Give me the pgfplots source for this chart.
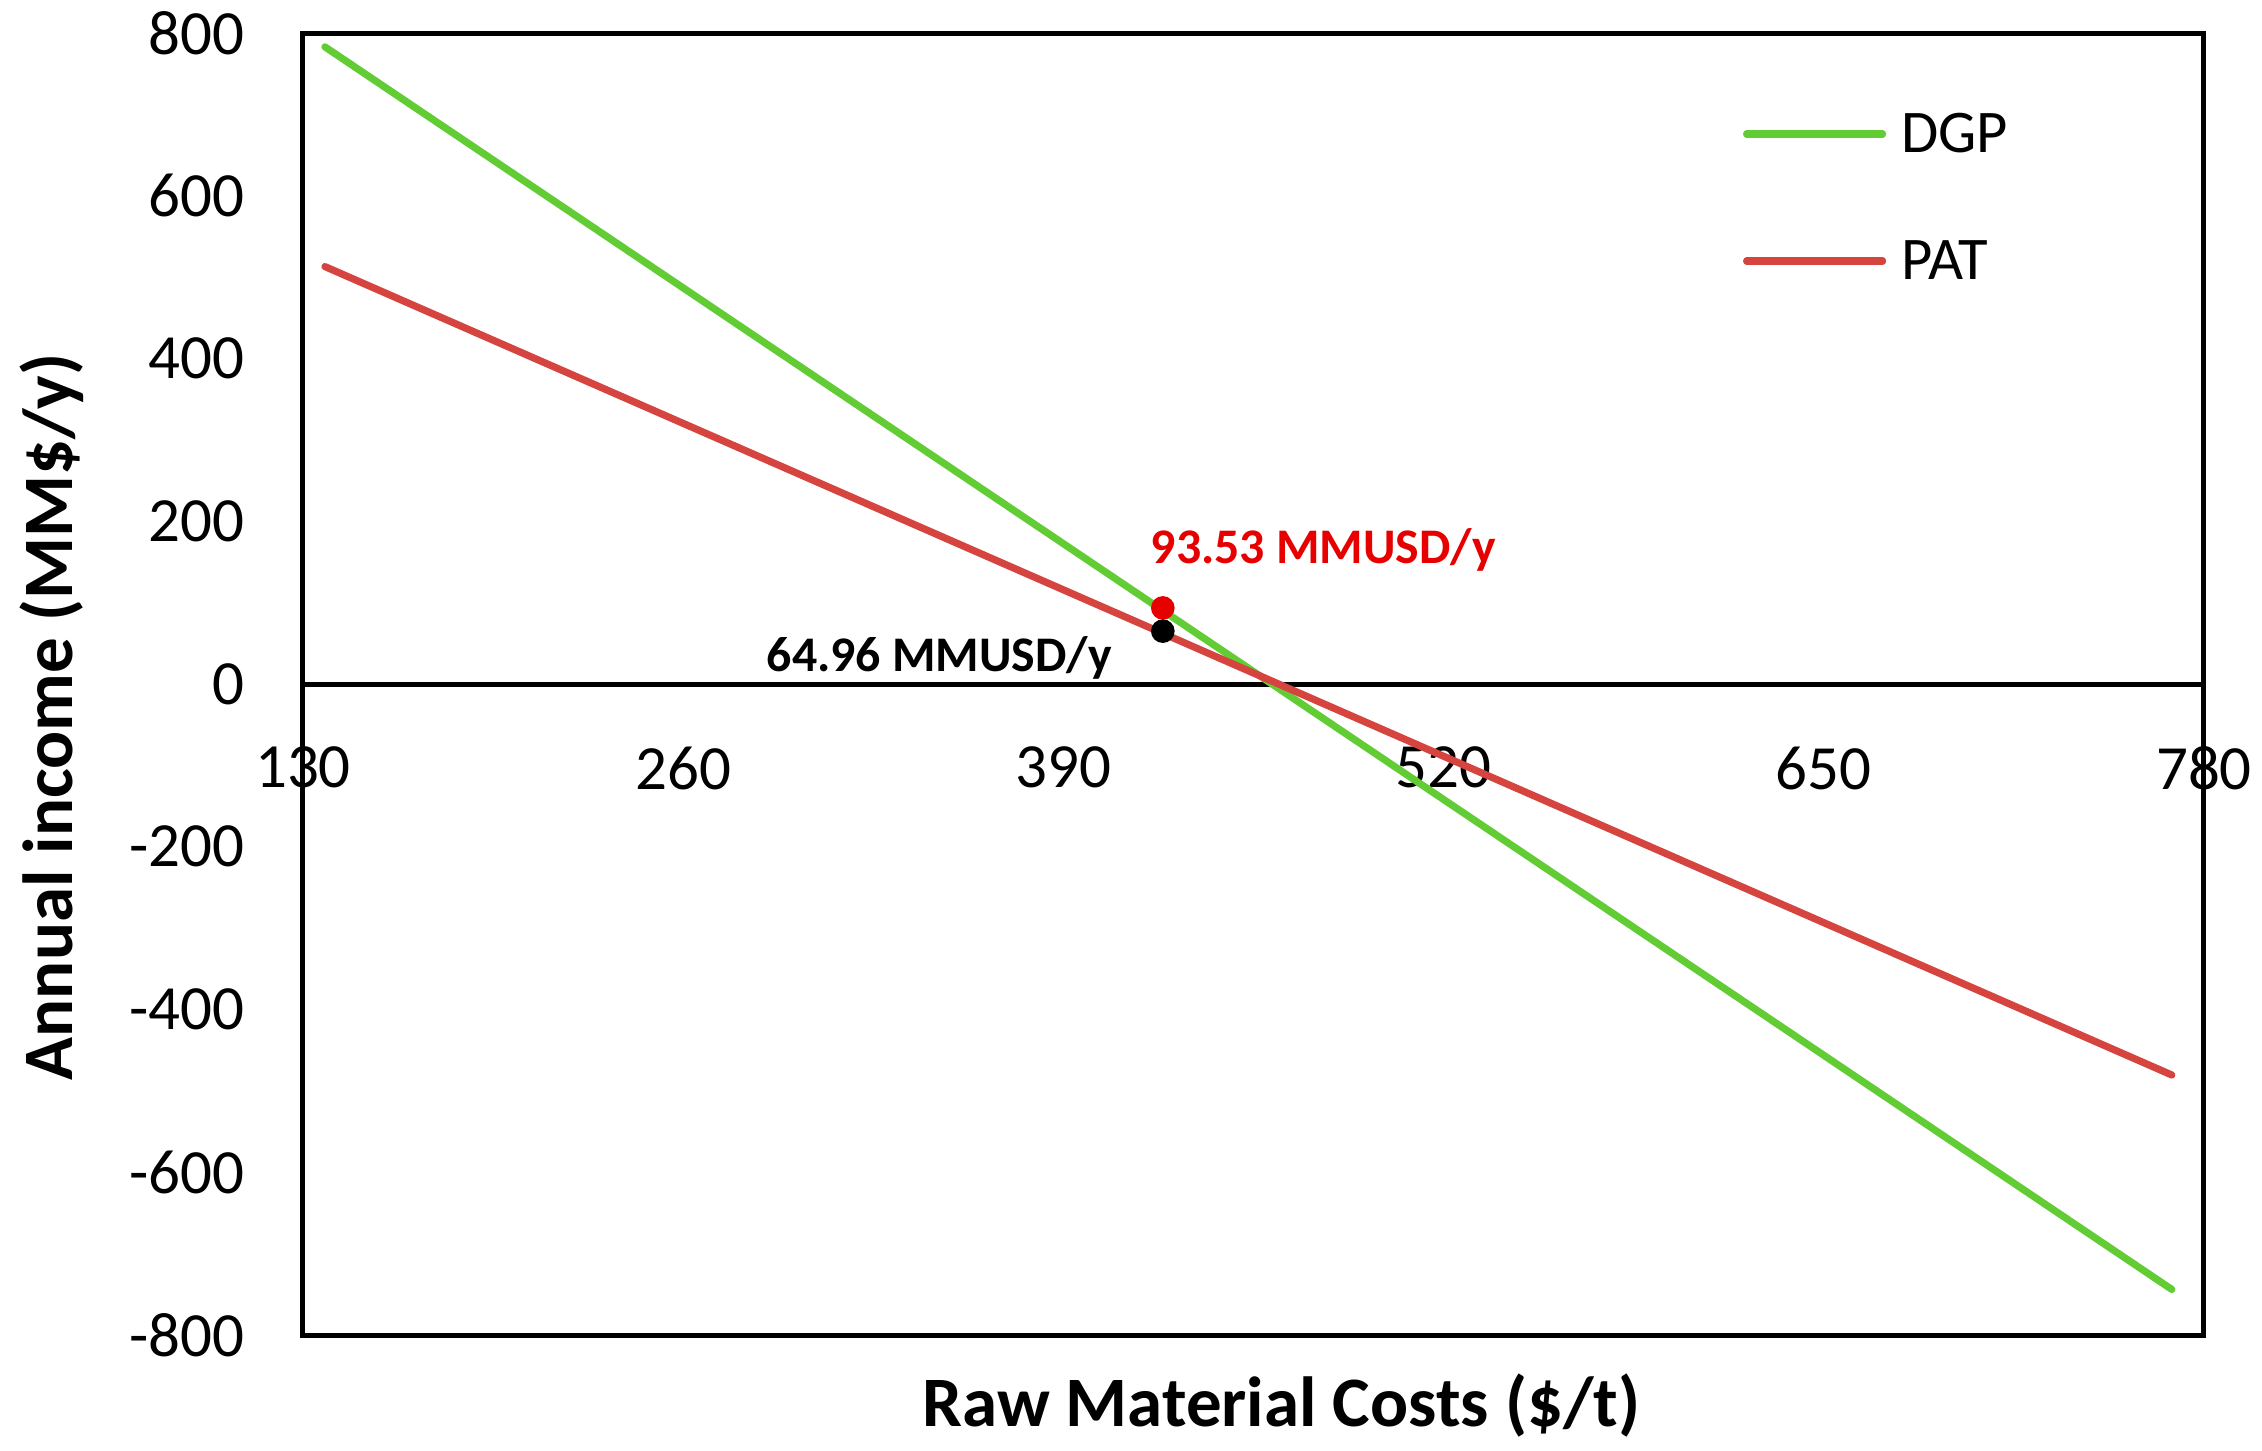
\documentclass[border=0pt]{standalone}
\usepackage{fontspec}
\setmainfont{Carlito}
\usepackage{pgfplots}
\pgfplotsset{compat=1.18}
\definecolor{dgp}{RGB}{98,204,52}
\definecolor{pat}{RGB}{214,68,64}
\definecolor{lblred}{RGB}{230,0,0}
\begin{document}
\begin{tikzpicture}
\begin{axis}[
  at={(0,0)}, anchor=south west,
  scale only axis, width=475.25bp, height=325.5bp,
  xmin=130, xmax=780, ymin=-800, ymax=800,
  axis x line=middle, axis y line=left,
  axis line style={-, line width=1.25bp, black},
  xtick={130,260,390,520,650,780},
  ytick={-800,-600,-400,-200,0,200,400,600,800},
  major tick length=0pt,
  hide obscured x ticks=false, hide obscured y ticks=false,
  /pgf/number format/assume math mode=true,
  /pgf/number format/1000 sep={},
  tick label style={font=\fontsize{15.8}{18}\selectfont, inner sep=0pt},
  yticklabel style={anchor=east, xshift=-14.5bp},
  xticklabel style={anchor=north, yshift=-15.5bp},
  ylabel={Annual income (MM\$/y)},
  xlabel={Raw Material Costs (\$/t)},
  every axis y label/.style={at={(axis description cs:-0.1215,0.4747)}, rotate=90, anchor=base,
    font=\bfseries\fontsize{17.8}{20}\selectfont, inner sep=0pt},
  every axis x label/.style={at={(axis description cs:0.5147,-0.0699)}, anchor=base,
    font=\bfseries\fontsize{17.8}{20}\selectfont, inner sep=0pt},
  legend style={at={(axis description cs:0.7575,0.9386)}, anchor=north west, draw=none, fill=none,
    inner sep=0pt, outer sep=0pt, row sep=20.5bp, column sep=3.75bp,
    font=\fontsize{15.2}{18}\selectfont, nodes={inner sep=0pt, outer sep=0pt}},
  legend image code/.code={\draw[#1, line cap=round] (0bp,0.4bp) -- (34bp,0.4bp);},
  legend cell align=left,
  clip=false,
]
\draw[line width=1.25bp, line join=miter] (rel axis cs:0,0) rectangle (rel axis cs:1,1);
\addplot[dgp, line width=1.8bp, line cap=round] coordinates {(137.5,783) (769,-744)};
\addlegendentry{DGP}
\addplot[pat, line width=1.8bp, line cap=round] coordinates {(137.5,513) (769,-480.5)};
\addlegendentry{PAT}
\addplot[only marks, mark=*, mark size=2.75bp, lblred, forget plot] coordinates {(424,93.53)};
\addplot[only marks, mark=*, mark size=2.75bp, black, forget plot] coordinates {(424,64.96)};
\node[anchor=base west, inner sep=0pt, text=lblred, font=\bfseries\fontsize{12.5}{14}\selectfont] at (axis cs:419.6,148.7) {93.53 MMUSD/y};
\node[anchor=base west, inner sep=0pt, text=black, font=\bfseries\fontsize{12.5}{14}\selectfont] at (axis cs:288.3,15) {64.96 MMUSD/y};
\end{axis}
\pgfresetboundingbox
\path[use as bounding box] (-75.75bp,-29bp) rectangle (489.75bp,333.75bp);
\end{tikzpicture}
\end{document}
